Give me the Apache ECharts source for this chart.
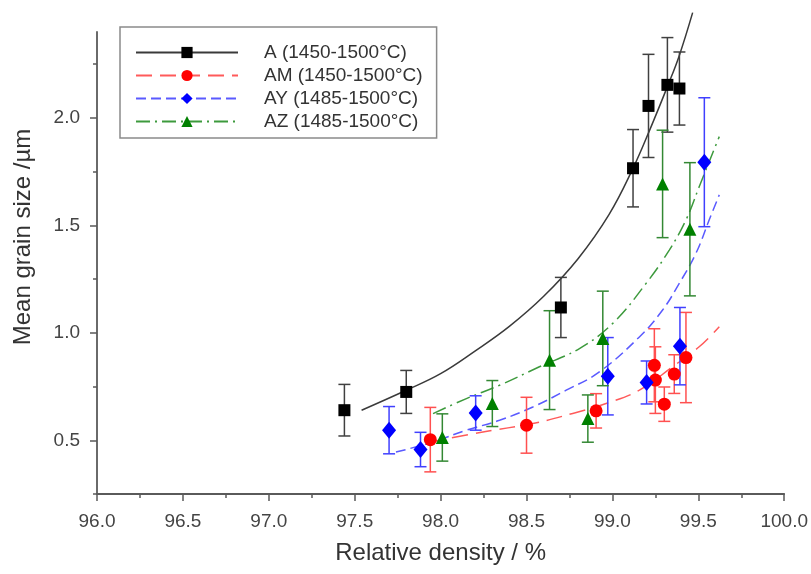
<!DOCTYPE html>
<html>
<head>
<meta charset="utf-8">
<script src="https://cdn.jsdelivr.net/npm/echarts@6/dist/echarts.min.js"></script>
<style>html,body{margin:0;padding:0;background:#fff;}#chart{width:811px;height:574px;}</style>
</head>
<body>
<div id="chart"></div>
<script>
// ---- Data ----
const seriesNames = ['A (1450-1500°C)', 'AM (1450-1500°C)', 'AY (1485-1500°C)', 'AZ (1485-1500°C)'];

const A_x   = [97.44, 97.80, 98.70, 99.12, 99.21, 99.32, 99.39];
const A_y   = [0.64, 0.725, 1.118, 1.766, 2.056, 2.154, 2.137];
const A_err = [0.12, 0.10, 0.14, 0.18, 0.24, 0.22, 0.17];

const AM_x   = [97.94, 98.50, 98.905, 99.244, 99.25, 99.302, 99.36, 99.428];
const AM_y   = [0.503, 0.570, 0.637, 0.849, 0.780, 0.668, 0.808, 0.885];
const AM_err = [0.15, 0.13, 0.08, 0.17, 0.155, 0.08, 0.09, 0.21];

const AY_x   = [97.70, 97.883, 98.204, 98.973, 99.199, 99.393, 99.535];
const AY_y   = [0.547, 0.457, 0.627, 0.798, 0.769, 0.938, 1.794];
const AY_err = [0.11, 0.08, 0.08, 0.18, 0.10, 0.18, 0.30];

const AZ_x   = [98.01, 98.301, 98.634, 98.857, 98.944, 99.292, 99.451];
const AZ_y   = [0.513, 0.671, 0.873, 0.601, 0.974, 1.693, 1.482];
const AZ_err = [0.11, 0.107, 0.23, 0.11, 0.22, 0.25, 0.31];

// fitted curves
const A_fit_x  = [97.54, 97.80, 98.00, 98.20, 98.40, 98.60, 98.80, 98.98, 99.12, 99.215, 99.324, 99.389, 99.467];
const A_fit_y  = [0.640, 0.733, 0.810, 0.915, 1.030, 1.170, 1.345, 1.550, 1.766, 1.940, 2.154, 2.290, 2.490];
const AM_fit_x = [97.93, 98.246, 98.537, 98.769, 98.963, 99.157, 99.35, 99.505, 99.622];
const AM_fit_y = [0.49, 0.539, 0.578, 0.625, 0.671, 0.733, 0.842, 0.935, 1.028];
const AY_fit_x = [97.74, 97.956, 98.15, 98.343, 98.537, 98.731, 98.924, 99.157, 99.292, 99.389, 99.486, 99.563, 99.622];
const AY_fit_y = [0.445, 0.492, 0.547, 0.593, 0.655, 0.733, 0.818, 0.981, 1.106, 1.230, 1.370, 1.525, 1.642];
const AZ_fit_x = [97.956, 98.15, 98.343, 98.575, 98.808, 99.002, 99.196, 99.331, 99.428, 99.505, 99.583, 99.622];
const AZ_fit_y = [0.624, 0.694, 0.756, 0.842, 0.927, 1.044, 1.230, 1.385, 1.525, 1.680, 1.836, 1.913];

const yMajorTicks = [0.5, 1.0, 1.5, 2.0];
const yMinorTicks = [0.25, 0.75, 1.25, 1.75, 2.25];

// ---- Styles ----
const FONT = "'Liberation Sans', Arial, sans-serif";
const markerColors = ['#000000', '#ff0000', '#0000ff', '#008000'];
const curveColors  = ['#3a3a3a', '#ff5a5a', '#5a5aff', '#3d9a3d'];
const errColors    = ['#404040', '#ff5050', '#4040ff', '#338833'];
const symbols      = ['rect', 'circle', 'diamond', 'triangle'];
const symbolSizes  = [12, 13, [14, 17], 13];
const dashTypes    = ['solid', [16, 8], [10, 5], [14, 5, 2, 5]];

const pts = [[A_x, A_y, A_err], [AM_x, AM_y, AM_err], [AY_x, AY_y, AY_err], [AZ_x, AZ_y, AZ_err]];
const fits = [[A_fit_x, A_fit_y], [AM_fit_x, AM_fit_y], [AY_fit_x, AY_fit_y], [AZ_fit_x, AZ_fit_y]];

const series = [];
// fit curves (used for legend)
fits.forEach((f, i) => {
  series.push({
    type: 'line', name: seriesNames[i],
    data: f[0].map((x, k) => [x, f[1][k]]),
    smooth: 0.4, showSymbol: false, symbol: symbols[i],
    clip: i !== 0,
    lineStyle: { color: curveColors[i], width: 1.5, type: dashTypes[i] },
    itemStyle: { color: markerColors[i] },
    z: 3, silent: true
  });
});
// error bars
pts.forEach((p, i) => {
  const col = errColors[i];
  series.push({
    type: 'custom', name: seriesNames[i] + ' err',
    data: p[0].map((x, k) => [x, p[1][k], p[2][k]]),
    encode: { x: 0, y: 1 }, clip: false, silent: true, z: 4,
    renderItem: function (params, api) {
      const x = api.value(0), y = api.value(1), e = api.value(2);
      const t = api.coord([x, y + e]), b = api.coord([x, y - e]);
      const hw = 6;
      const st = { stroke: col, lineWidth: 1.5 };
      return { type: 'group', children: [
        { type: 'line', shape: { x1: t[0], y1: t[1], x2: b[0], y2: b[1] }, style: st },
        { type: 'line', shape: { x1: t[0] - hw, y1: t[1], x2: t[0] + hw, y2: t[1] }, style: st },
        { type: 'line', shape: { x1: b[0] - hw, y1: b[1], x2: b[0] + hw, y2: b[1] }, style: st }
      ]};
    }
  });
});
// markers
pts.forEach((p, i) => {
  series.push({
    type: 'scatter', name: seriesNames[i] + ' pts',
    data: p[0].map((x, k) => [x, p[1][k]]),
    symbol: symbols[i], symbolSize: symbolSizes[i],
    itemStyle: { color: markerColors[i], opacity: 1 },
    z: 5, silent: true
  });
});

const chart = echarts.init(document.getElementById('chart'), null, { renderer: 'canvas' });
chart.setOption({
  animation: false,
  backgroundColor: '#ffffff',
  grid: { left: 97, right: 26, top: 32, bottom: 80, containLabel: false },
  legend: {
    data: seriesNames, orient: 'vertical', left: 120, top: 27,
    padding: [16, 14, 7, 15], itemGap: 4, itemWidth: 102, itemHeight: 14,
    borderColor: '#8a8a8a', borderWidth: 1.5, backgroundColor: '#fff',
    selectedMode: false,
    textStyle: { fontFamily: FONT, fontSize: 19, color: '#333', lineHeight: 14, padding: [0, 0, 0, 21] }
  },
  xAxis: {
    type: 'value', min: 96, max: 100, interval: 0.5,
    name: 'Relative density / %', nameLocation: 'middle', nameGap: 47,
    nameTextStyle: { fontFamily: FONT, fontSize: 24, color: '#333' },
    axisLine: { show: true, onZero: false, lineStyle: { color: '#5a5a5a', width: 1.8 } },
    axisTick: { show: true, inside: false, length: 7, lineStyle: { color: '#5a5a5a', width: 1.5 } },
    minorTick: { show: true, splitNumber: 2, length: 4, lineStyle: { color: '#5a5a5a', width: 1.5 } },
    axisLabel: { fontFamily: FONT, fontSize: 19, color: '#444', margin: 18, formatter: v => v.toFixed(1) },
    splitLine: { show: false }, minorSplitLine: { show: false }
  },
  yAxis: [
    {
      type: 'value', min: 0.25, max: 2.4, interval: 0.25, position: 'left',
      axisLine: { show: true, onZero: false, lineStyle: { color: '#5a5a5a', width: 1.8 } },
      axisTick: { show: true, inside: false, length: 4, customValues: yMinorTicks, lineStyle: { color: '#5a5a5a', width: 1.5 } },
      axisLabel: { show: false },
      splitLine: { show: false }
    },
    {
      type: 'value', min: 0.25, max: 2.4, interval: 0.25, position: 'left',
      name: 'Mean grain size /µm', nameLocation: 'middle', nameGap: 62,
      nameTextStyle: { fontFamily: FONT, fontSize: 24, color: '#333', padding: [0, 0, 0, 52] },
      axisLine: { show: false },
      axisTick: { show: true, inside: false, length: 7, customValues: yMajorTicks, lineStyle: { color: '#5a5a5a', width: 1.5 } },
      axisLabel: { fontFamily: FONT, fontSize: 19, color: '#444', margin: 17, customValues: yMajorTicks, formatter: v => v.toFixed(1) },
      splitLine: { show: false }
    }
  ],
  series: series
});
</script>
</body>
</html>
